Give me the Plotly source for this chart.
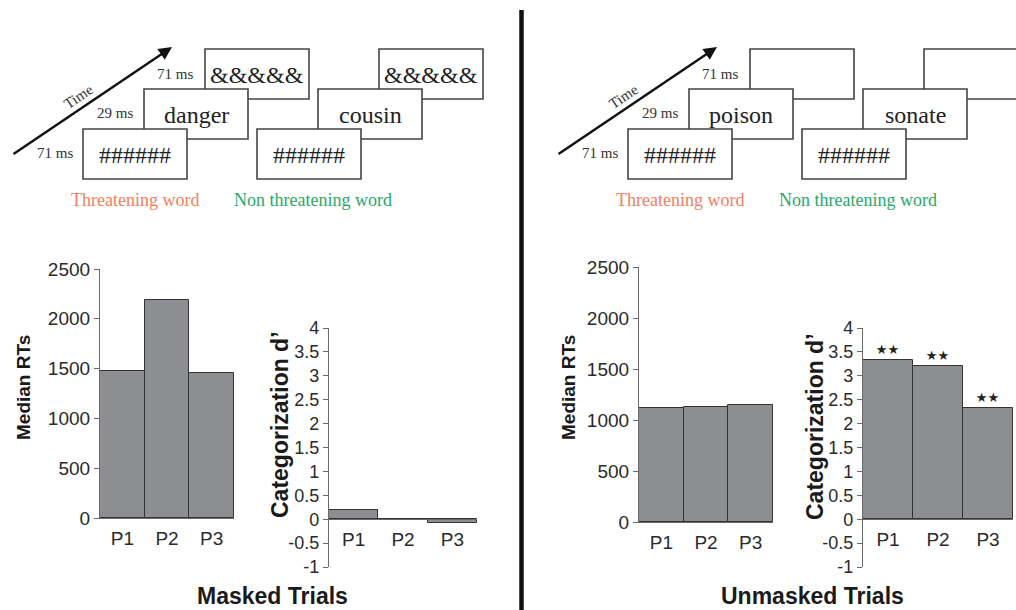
import plotly.graph_objects as go

# ---------------- data ----------------
categories = ["P1", "P2", "P3"]
masked_rt = [1480, 2190, 1455]
masked_dprime = [0.2, 0.0, -0.07]
unmasked_rt = [1115, 1130, 1145]
unmasked_dprime = [3.33, 3.21, 2.33]
significance = ["★★", "★★", "★★"]

rt_tickvals = [0, 500, 1000, 1500, 2000, 2500]
d_tickvals = [-1, -0.5, 0, 0.5, 1, 1.5, 2, 2.5, 3, 3.5, 4]
d_ticktext = ["-1", "-0.5", "0", "0.5", "1", "1.5", "2", "2.5", "3", "3.5", "4"]

durations = ["71 ms", "29 ms", "71 ms"]
masked_words = ["danger", "cousin"]
unmasked_words = ["poison", "sonate"]
mask_pre = "######"
mask_post = "&&&&&"
word_labels = ["Threatening word", "Non threatening word"]
word_colors = ["#f2805e", "#2aa86a"]
panel_titles = ["Masked Trials", "Unmasked Trials"]

W, H = 1016, 610


def X(px):
    return px / W


def Y(py):
    return 1 - py / H


SANS = "Liberation Sans, Arial, sans-serif"
SERIF = "Liberation Serif, Times New Roman, serif"
BAR = "#8d8e92"
EDGE = "#333333"
AX = "#6a6a6a"
TXT = "#2a2a2a"

fig = go.Figure()

# bars
fig.add_trace(go.Bar(x=categories, y=masked_rt, xaxis="x", yaxis="y",
                     marker=dict(color=BAR, line=dict(color=EDGE, width=1))))
fig.add_trace(go.Bar(x=categories, y=masked_dprime, xaxis="x2", yaxis="y2",
                     marker=dict(color=BAR, line=dict(color=EDGE, width=1))))
fig.add_trace(go.Bar(x=categories, y=unmasked_rt, xaxis="x3", yaxis="y3",
                     marker=dict(color=BAR, line=dict(color=EDGE, width=1))))
fig.add_trace(go.Bar(x=categories, y=unmasked_dprime, xaxis="x4", yaxis="y4",
                     text=significance, textposition="outside",
                     textfont=dict(family="DejaVu Sans", size=13, color="#222"),
                     cliponaxis=False,
                     marker=dict(color=BAR, line=dict(color=EDGE, width=1))))

rt_y = dict(range=[0, 2500], tickvals=rt_tickvals, ticks="outside", ticklen=5,
            tickcolor=AX, showline=True, linecolor=AX, linewidth=1.2,
            showgrid=False, zeroline=False, tickfont=dict(family=SANS, size=19, color=TXT),
            automargin=False, fixedrange=True)
d_y = dict(range=[-1, 4], tickvals=d_tickvals, ticktext=d_ticktext, ticks="outside",
           ticklen=5, tickcolor=AX, showline=True, linecolor=AX, linewidth=1.2,
           showgrid=False, zeroline=False, tickfont=dict(family=SANS, size=18, color=TXT),
           automargin=False, fixedrange=True)
cat_x = dict(showline=True, linecolor=AX, linewidth=1.2, ticks="", showgrid=False,
             tickfont=dict(family=SANS, size=19, color=TXT), automargin=False,
             ticklabelstandoff=3, fixedrange=True)

# domains (pixel based)
d1x = [X(100), X(234)]
d1y = [Y(518), Y(269)]
d2x = [X(329), X(477)]
d2y = [Y(567), Y(328)]
d3x = [X(639), X(773)]
d3y = [Y(522), Y(267)]
d4x = [X(863), X(1013)]
d4y = [Y(567), Y(328)]


def zero_pos(dom, lo=-1, hi=4):
    return dom[0] + (0 - lo) / (hi - lo) * (dom[1] - dom[0])


fig.update_layout(
    width=W, height=H, autosize=False,
    margin=dict(l=0, r=0, t=0, b=0),
    paper_bgcolor="white", plot_bgcolor="rgba(0,0,0,0)",
    showlegend=False, bargap=0,
    xaxis=dict(domain=d1x, anchor="y", **cat_x),
    yaxis=dict(domain=d1y, anchor="x", **rt_y),
    xaxis2=dict(domain=d2x, anchor="free", position=zero_pos(d2y), **cat_x),
    yaxis2=dict(domain=d2y, anchor="x2", **d_y),
    xaxis3=dict(domain=d3x, anchor="y3", **cat_x),
    yaxis3=dict(domain=d3y, anchor="x3", **rt_y),
    xaxis4=dict(domain=d4x, anchor="free", position=zero_pos(d4y), **cat_x),
    yaxis4=dict(domain=d4y, anchor="x4", **d_y),
)

ann = []
shapes = []


def label(px, py, text, font, angle=0):
    ann.append(dict(x=X(px), y=Y(py), xref="paper", yref="paper", text=text,
                    xanchor="center", yanchor="middle", textangle=angle,
                    showarrow=False, font=font))


# axis titles
for (cx, cy, t, fs) in [(23, 388, "Median RTs", 19), (280, 425, "Categorization d’", 23),
                        (568, 388, "Median RTs", 19), (815, 427, "Categorization d’", 23)]:
    label(cx, cy, "<b>%s</b>" % t, dict(family=SANS, size=fs, color="#1a1a1a"), -90)

# panel titles
for cx, t in zip([272, 812], panel_titles):
    label(cx, 596, "<b>%s</b>" % t, dict(family=SANS, size=23, color="#1a1a1a"))

# divider
shapes.append(dict(type="line", xref="paper", yref="paper", x0=X(521.5), x1=X(521.5),
                   y0=Y(10), y1=Y(612), line=dict(color="#111", width=4.5)))


def diagram(ox, words, show_post):
    # arrow
    ann.append(dict(x=X(ox + 172), y=Y(47), xref="paper", yref="paper", text="",
                    showarrow=True, ax=-160, ay=108, axref="pixel", ayref="pixel",
                    arrowhead=2, arrowsize=1.1, arrowwidth=2.4, arrowcolor="#111"))
    label(ox + 78, 97, "Time", dict(family=SERIF, size=15, color="#333"), -34)
    # duration labels
    for (lx, ly), d in zip([(55, 153), (115, 113), (175, 74)], durations):
        label(ox + lx, ly, d, dict(family=SERIF, size=15, color="#333"))
    # two stacks of boxes
    for k, (sx, word) in enumerate(zip([0, 174], words)):
        boxes = [(83, 129, mask_pre), (144, 89, word), (205, 49, mask_post if show_post else "")]
        for bx, by, txt in reversed(boxes):
            x0, y0 = ox + sx + bx, by
            shapes.append(dict(type="rect", xref="paper", yref="paper",
                               x0=X(x0), x1=X(x0 + 104), y0=Y(y0 + 50), y1=Y(y0),
                               line=dict(color="#444", width=1.6), fillcolor="white",
                               layer="above"))
        for bx, by, txt in boxes:
            if txt:
                label(ox + sx + bx + 52, by + 26, txt,
                      dict(family=SERIF, size=24, color="#222"))
        label(ox + [135, 313][k], 200, word_labels[k],
              dict(family=SERIF, size=18, color=word_colors[k]))


diagram(0, masked_words, True)
diagram(545, unmasked_words, False)

fig.update_layout(annotations=ann, shapes=shapes)
fig.write_html("out.html", config={"displayModeBar": False},
               post_script="document.body.style.margin='0';document.body.style.overflow='hidden';")
